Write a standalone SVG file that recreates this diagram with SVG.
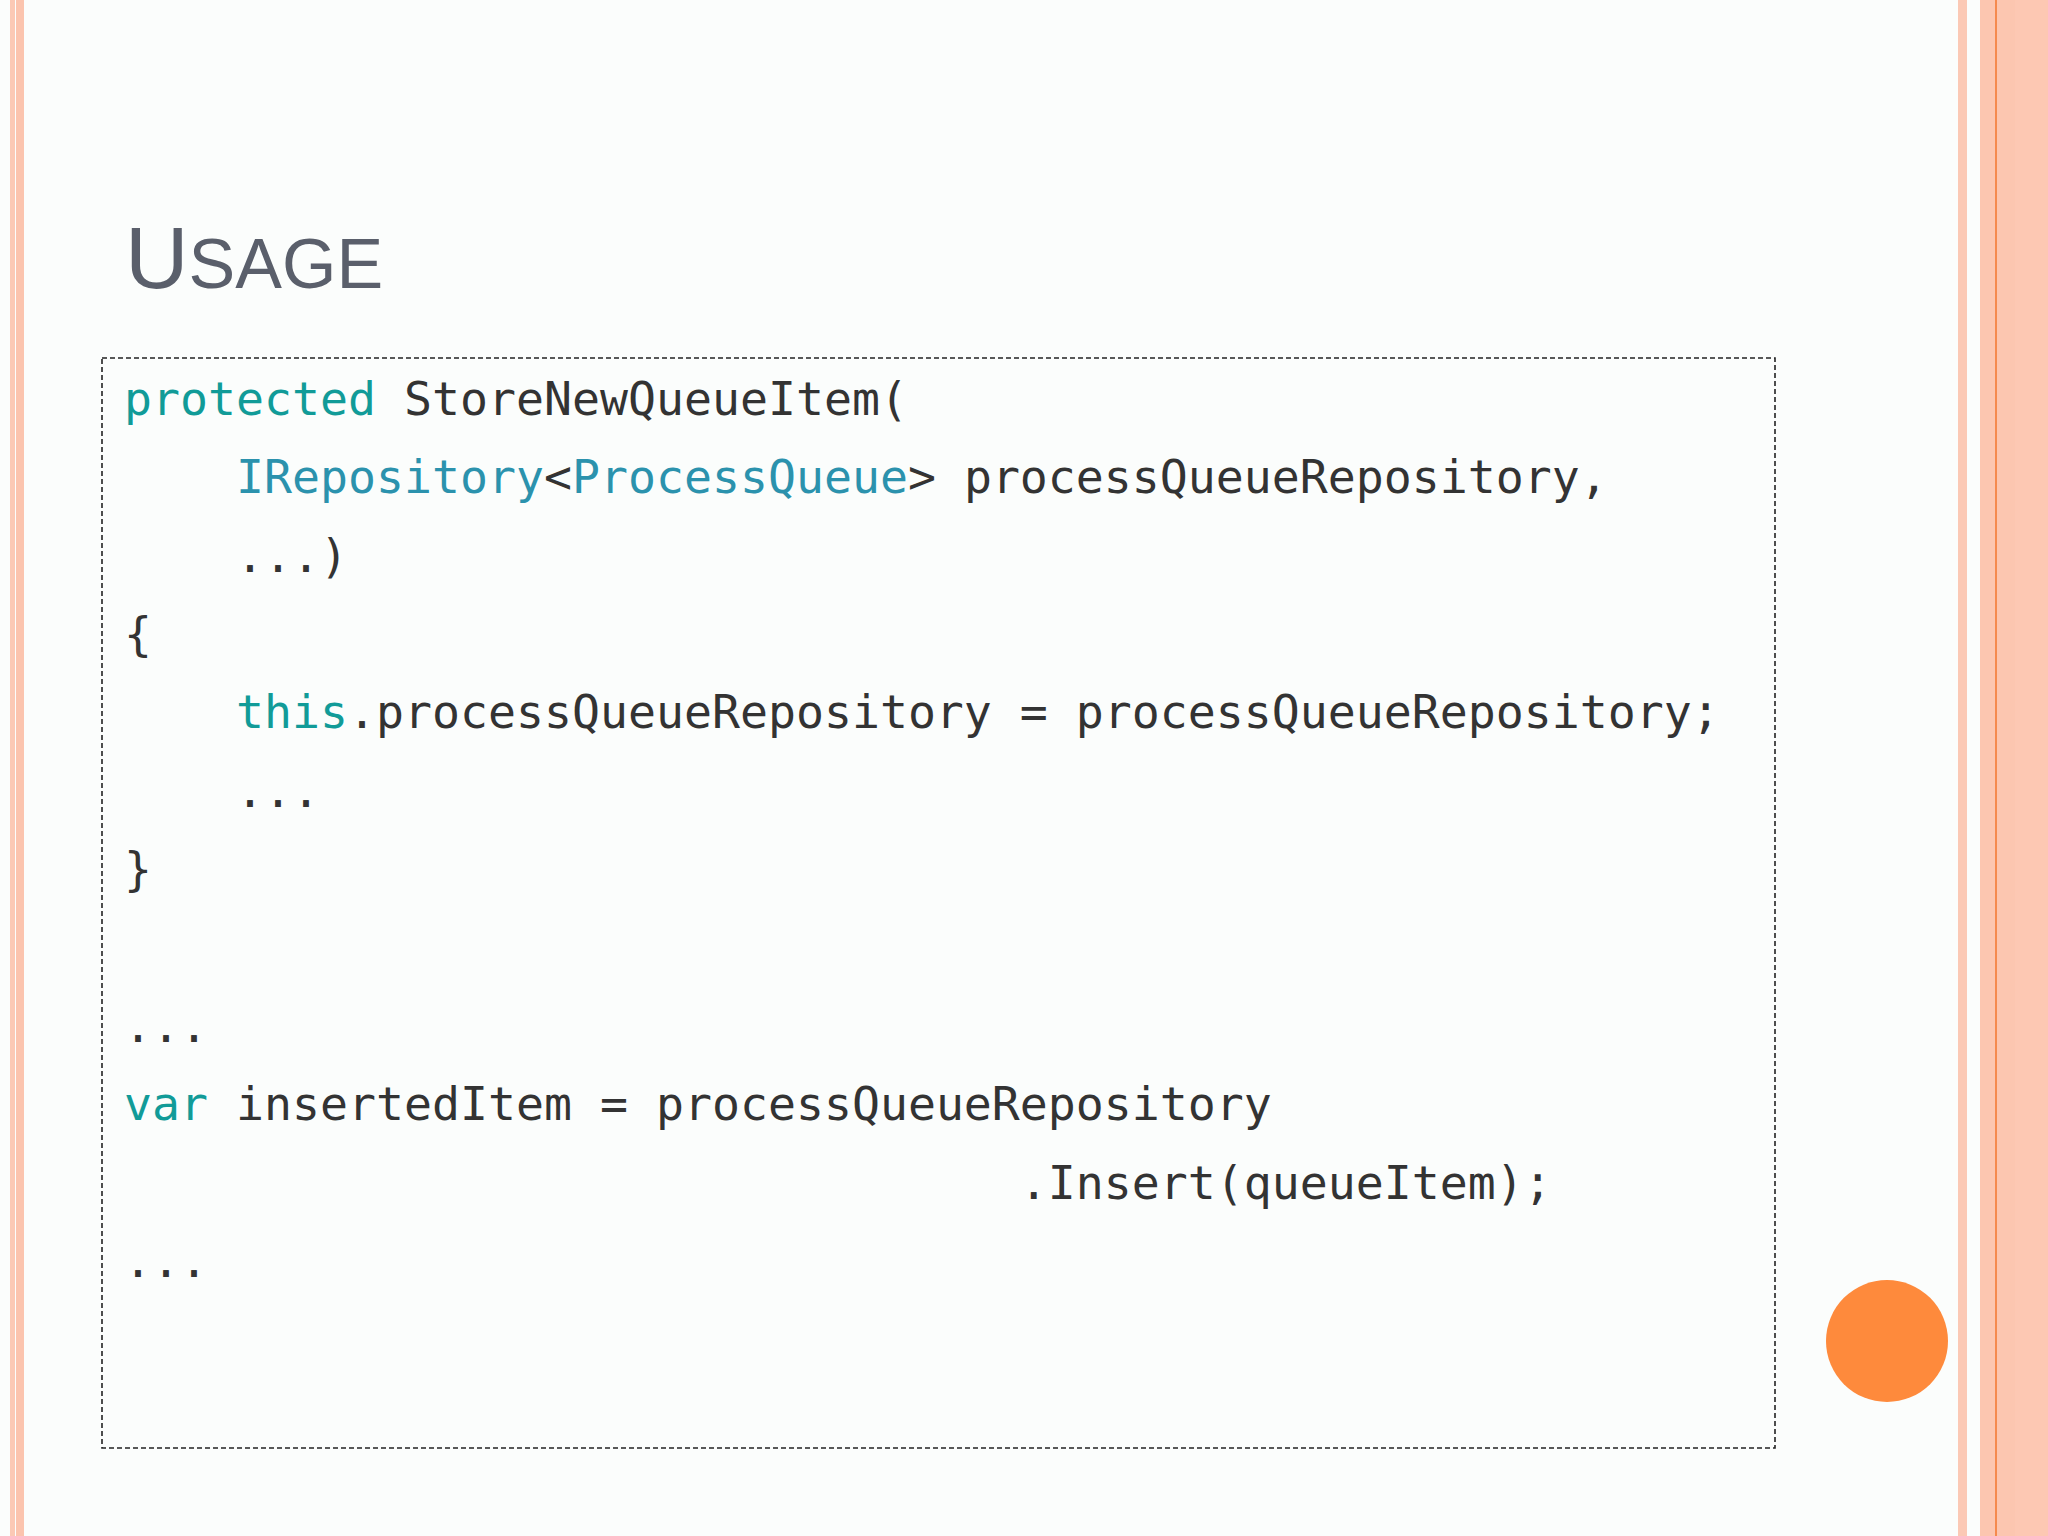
<svg xmlns="http://www.w3.org/2000/svg" width="2048" height="1536" viewBox="0 0 2048 1536">
<style>
.c{font-family:"DejaVu Sans Mono","Liberation Mono",monospace;font-size:46.5px;fill:#333;white-space:pre}
.k{fill:#119b98}
.t{fill:#2b92ad}
</style>
<rect width="2048" height="1536" fill="#fbfdfc"/>
<rect x="10" y="0" width="5" height="1536" fill="#fbc9b5"/>
<rect x="16" y="0" width="8" height="1536" fill="#fbc4ae"/>
<rect x="1958" y="0" width="9" height="1536" fill="#fbc9b5"/>
<rect x="1980" y="0" width="68" height="1536" fill="#fcc6b0"/>
<rect x="2015" y="0" width="33" height="1536" fill="#fdc8b3"/>
<rect x="1995" y="0" width="2" height="1536" fill="#f58a4e"/>
<g id="title"><text x="125" y="288" font-family="Liberation Sans, Arial, sans-serif" fill="#5a5f6b"><tspan font-size="88">U</tspan><tspan font-size="70">SAGE</tspan></text></g>
<g id="code">
<rect x="102" y="358" width="1673" height="1090" fill="none" stroke="#222" stroke-width="1.6" stroke-dasharray="5,3"/>
<text class="c" x="124" y="415"><tspan class="k">protected</tspan> StoreNewQueueItem(</text>
<text class="c" x="124" y="493">    <tspan class="t">IRepository</tspan>&lt;<tspan class="t">ProcessQueue</tspan>&gt; processQueueRepository,</text>
<text class="c" x="124" y="572">    ...)</text>
<text class="c" x="124" y="650">{</text>
<text class="c" x="124" y="728">    <tspan class="k">this</tspan>.processQueueRepository = processQueueRepository;</text>
<text class="c" x="124" y="807">    ...</text>
<text class="c" x="124" y="885">}</text>
<text class="c" x="124" y="1042">...</text>
<text class="c" x="124" y="1120"><tspan class="k">var</tspan> insertedItem = processQueueRepository</text>
<text class="c" x="124" y="1199">                                .Insert(queueItem);</text>
<text class="c" x="124" y="1277">...</text>
</g>
<circle cx="1887" cy="1341" r="61" fill="#fe8a3c"/>
</svg>
